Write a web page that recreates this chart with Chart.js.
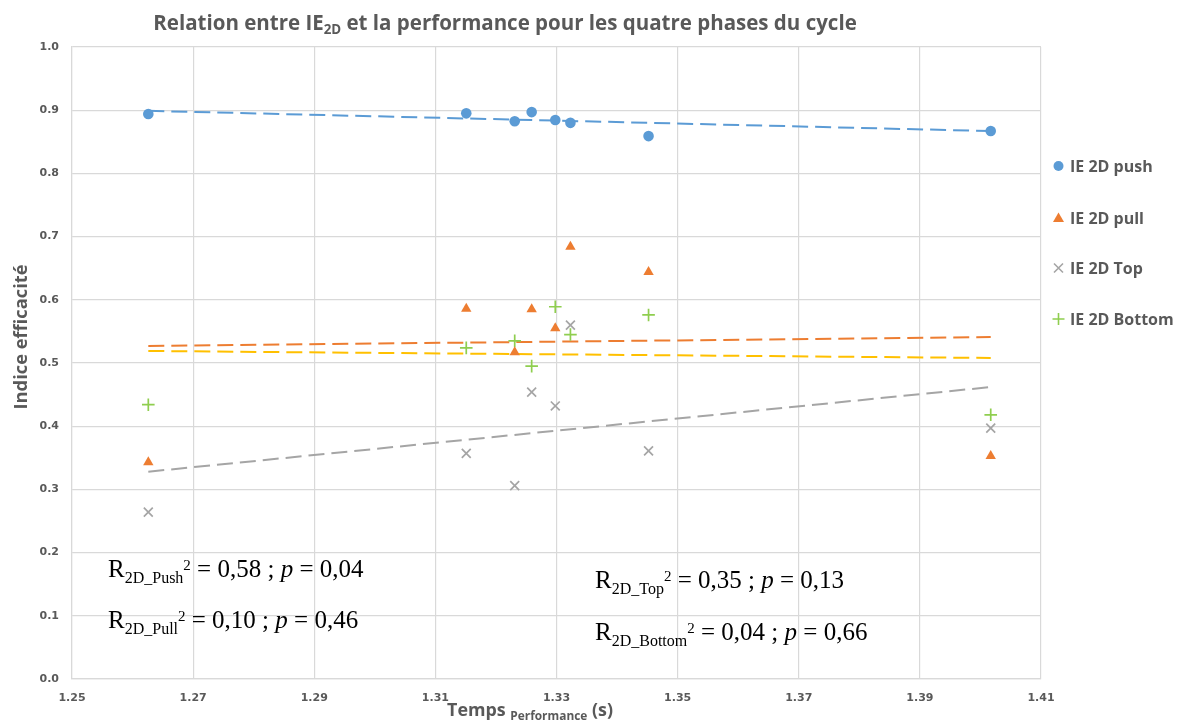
<!DOCTYPE html>
<html>
<head>
<meta charset="utf-8">
<script src="https://cdn.jsdelivr.net/npm/chart.js@4.4.1/dist/chart.umd.min.js"></script>
<style>
html,body{margin:0;padding:0;background:#fff;}
#wrap{width:1179px;height:722px;position:relative;}
</style>
</head>
<body>
<div id="wrap"><canvas id="c" width="1179" height="722"></canvas></div>
<script>
// ---- data ----
const times = [1.2626, 1.3151, 1.3231, 1.3259, 1.3298, 1.3323, 1.3452, 1.4017];
const iePush = [0.894, 0.895, 0.8825, 0.897, 0.8845, 0.880, 0.859, 0.867];
const iePull = [0.343, 0.586, 0.517, 0.585, 0.555, 0.684, 0.644, 0.353];
const ieTop = [0.264, 0.357, 0.306, 0.454, 0.432, 0.560, 0.361, 0.397];
const ieBottom = [0.434, 0.524, 0.535, 0.495, 0.589, 0.545, 0.576, 0.418];
const trendX = [1.2626, 1.4017];
const trendPush = [0.899, 0.867];
const trendPull = [0.527, 0.541];
const trendTop = [0.328, 0.462];
const trendBottom = [0.519, 0.508];
const xTicks = [1.25, 1.27, 1.29, 1.31, 1.33, 1.35, 1.37, 1.39, 1.41];
const yTicks = [0.0, 0.1, 0.2, 0.3, 0.4, 0.5, 0.6, 0.7, 0.8, 0.9, 1.0];
const seriesNames = ['IE 2D push', 'IE 2D pull', 'IE 2D Top', 'IE 2D Bottom'];

const C_PUSH = '#5b9bd5', C_PULL = '#ed7d31', C_TOP = '#a5a5a5', C_BOTTOM = '#8fce4f', C_YEL = '#ffc000';
const TXT = '#595959';

const pts = (xs, ys) => xs.map((x, i) => ({x: x, y: ys[i]}));

function trend(data, color, order) {
  return {type: 'line', data: data, borderColor: color, borderWidth: 2, borderDash: [16, 7],
    pointRadius: 0, fill: false, showLine: true, order: order};
}

const datasets = [
  trend(pts(trendX, trendPush), C_PUSH, 10),
  trend(pts(trendX, trendPull), C_PULL, 10),
  trend(pts(trendX, trendTop), C_TOP, 10),
  trend(pts(trendX, trendBottom), C_YEL, 10),
  {label: seriesNames[0], data: pts(times, iePush), pointStyle: 'circle', pointRadius: 5.3,
    backgroundColor: C_PUSH, borderColor: C_PUSH, borderWidth: 0, order: 1},
  {label: seriesNames[1], data: pts(times, iePull), pointStyle: 'triangle', pointRadius: 6,
    backgroundColor: C_PULL, borderColor: C_PULL, borderWidth: 0, order: 1},
  {label: seriesNames[2], data: pts(times, ieTop), pointStyle: 'crossRot', pointRadius: 6.3,
    backgroundColor: C_TOP, borderColor: C_TOP, borderWidth: 1.7, order: 1},
  {label: seriesNames[3], data: pts(times, ieBottom), pointStyle: 'cross', pointRadius: 6.3,
    backgroundColor: C_BOTTOM, borderColor: C_BOTTOM, borderWidth: 1.7, order: 1}
];

// draws a run of text pieces; if width is given, font sizes are scaled to fit it
function drawRich(ctx, x, y, parts, align, width) {
  const mk = (p, k) => (p.w || '') + ' ' + (p.s * k) + 'px ' + p.fam;
  const measure = k => parts.reduce((a, p) => { ctx.font = mk(p, k); return a + ctx.measureText(p.t).width; }, 0);
  let k = 1;
  if (width) k = width / measure(1);
  const total = measure(k);
  let cx = align === 'center' ? x - total / 2 : x;
  ctx.textBaseline = 'alphabetic';
  ctx.textAlign = 'left';
  parts.forEach(p => {
    ctx.font = mk(p, k);
    ctx.fillText(p.t, cx, y + (p.dy || 0) * k);
    cx += ctx.measureText(p.t).width;
  });
}

function marker(ctx, style, color, x, y) {
  ctx.save();
  ctx.fillStyle = color; ctx.strokeStyle = color; ctx.lineWidth = 1.6;
  ctx.beginPath();
  if (style === 'circle') { ctx.arc(x, y, 5, 0, Math.PI * 2); ctx.fill(); }
  else if (style === 'triangle') { ctx.moveTo(x, y - 5.5); ctx.lineTo(x + 5.5, y + 4); ctx.lineTo(x - 5.5, y + 4); ctx.closePath(); ctx.fill(); }
  else if (style === 'crossRot') { const r = 4.5; ctx.moveTo(x - r, y - r); ctx.lineTo(x + r, y + r); ctx.moveTo(x + r, y - r); ctx.lineTo(x - r, y + r); ctx.stroke(); }
  else { const r = 6; ctx.moveTo(x - r, y); ctx.lineTo(x + r, y); ctx.moveTo(x, y - r); ctx.lineTo(x, y + r); ctx.stroke(); }
  ctx.restore();
}

const OS = '"Open Sans"', SERIF = '"Liberation Serif"';

const deco = {
  id: 'deco',
  afterDraw(chart) {
    const ctx = chart.ctx;
    ctx.save();
    ctx.fillStyle = TXT;
    // title
    drawRich(ctx, 505, 30, [
      {t: 'Relation entre IE', w: 'bold', s: 20, fam: OS},
      {t: '2D', w: 'bold', s: 13, fam: OS, dy: 4},
      {t: ' et la performance pour les quatre phases du cycle', w: 'bold', s: 20, fam: OS}
    ], 'center', 704);
    // x title
    drawRich(ctx, 530, 716, [
      {t: 'Temps ', w: 'bold', s: 18, fam: OS},
      {t: 'Performance', w: 'bold', s: 12, fam: OS, dy: 4},
      {t: ' (s)', w: 'bold', s: 18, fam: OS}
    ], 'center', 166);
    // y title
    ctx.save();
    ctx.translate(27, 337);
    ctx.rotate(-Math.PI / 2);
    drawRich(ctx, 0, 0, [{t: 'Indice efficacité', w: 'bold', s: 17, fam: OS}], 'center', 145);
    ctx.restore();
    // legend
    const styles = ['circle', 'triangle', 'crossRot', 'cross'];
    const cols = [C_PUSH, C_PULL, C_TOP, C_BOTTOM];
    const ly = [166, 218, 268, 319];
    seriesNames.forEach((n, i) => {
      marker(ctx, styles[i], cols[i], 1058.5, ly[i]);
      ctx.fillStyle = TXT;
      ctx.font = 'bold 16px ' + OS;
      ctx.textAlign = 'left';
      ctx.textBaseline = 'middle';
      ctx.fillText(n, 1070, ly[i] + 1);
    });
    // annotations
    ctx.fillStyle = '#000';
    const ann = (x, y, name, r2, p) => drawRich(ctx, x, y, [
      {t: 'R', s: 25, fam: SERIF}, {t: '2D_' + name, s: 16, fam: SERIF, dy: 6}, {t: '2', s: 15, fam: SERIF, dy: -7},
      {t: ' = ' + r2 + ' ; ', s: 25, fam: SERIF}, {t: 'p', w: 'italic', s: 25, fam: SERIF}, {t: ' = ' + p, s: 25, fam: SERIF}
    ], 'left');
    ann(108, 577, 'Push', '0,58', '0,04');
    ann(108, 628, 'Pull', '0,10', '0,46');
    ann(595, 588, 'Top', '0,35', '0,13');
    ann(595, 640, 'Bottom', '0,04', '0,66');
    ctx.restore();
  }
};

new Chart(document.getElementById('c'), {
  type: 'scatter',
  data: {datasets: datasets},
  options: {
    responsive: false,
    animation: false,
    layout: {padding: {left: 0, top: 47, right: 138, bottom: 0}},
    plugins: {legend: {display: false}, tooltip: {enabled: false}, title: {display: false}},
    scales: {
      x: {
        type: 'linear', min: 1.25, max: 1.41,
        afterBuildTicks: s => { s.ticks = xTicks.map(v => ({value: v})); },
        afterFit: s => { s.height = 43; },
        grid: {color: '#d9d9d9', lineWidth: 1.2, drawTicks: false},
        border: {color: '#d9d9d9', width: 1.2},
        ticks: {color: TXT, font: {family: 'DejaVu Sans', size: 11, weight: 'bold'}, padding: 13,
          maxRotation: 0, autoSkip: false, callback: v => Number(v).toFixed(2)}
      },
      y: {
        type: 'linear', min: 0, max: 1,
        afterBuildTicks: s => { s.ticks = yTicks.map(v => ({value: v})); },
        afterFit: s => { s.width = 72; },
        grid: {color: '#d9d9d9', lineWidth: 1.2, drawTicks: false},
        border: {color: '#d9d9d9', width: 1.2},
        ticks: {color: TXT, font: {family: 'DejaVu Sans', size: 11, weight: 'bold'}, padding: 13,
          callback: v => Number(v).toFixed(1)}
      }
    }
  },
  plugins: [deco]
});
</script>
</body>
</html>
